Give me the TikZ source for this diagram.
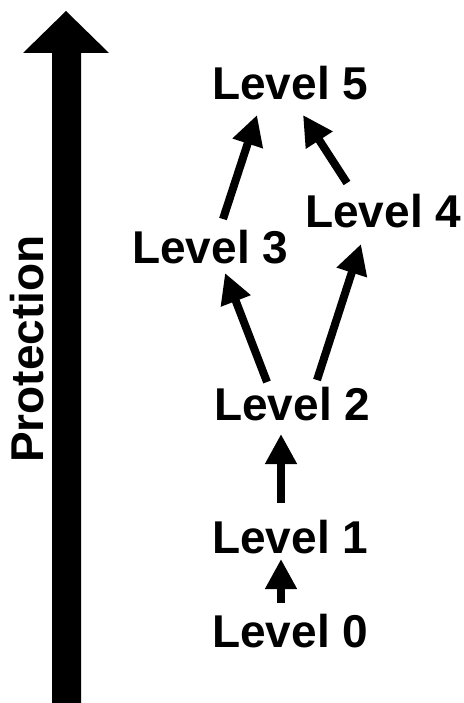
\documentclass[tikz,border=0pt]{standalone}
\usepackage{fontspec}
\setmainfont{Liberation Sans}
\usetikzlibrary{arrows.meta}
\begin{document}
\begin{tikzpicture}[x=1pt,y=-1pt,
  lvl/.style={font=\bfseries\fontsize{46}{55}\selectfont, inner sep=0pt, anchor=base west},
  uparrow/.style={line width=8pt, -{Triangle[width=30pt,length=30pt]}}]
\useasboundingbox (0,0) rectangle (463,703);
% big protection arrow
\fill[black] (52,710) -- (52,53) -- (23,53) -- (66,11) -- (109,53) -- (81,53) -- (81,710) -- cycle;
\node[font=\bfseries\fontsize{46}{55}\selectfont, inner sep=0pt, rotate=90, anchor=base west] (prot) at (43,463) {Protection};
% levels
\node[lvl] (L5) at (212,100) {Level 5};
\node[lvl] (L4) at (305,228) {Level 4};
\node[lvl] (L3) at (132,263) {Level 3};
\node[lvl] (L2) at (214,420) {Level 2};
\node[lvl] (L1) at (212,553) {Level 1};
\node[lvl] (L0) at (212,647) {Level 0};
% arrow ends
\coordinate (a01s) at (281,603); \coordinate (a01e) at (281,559);
\coordinate (a12s) at (281,503); \coordinate (a12e) at (281,434);
\coordinate (a23s) at (267,382); \coordinate (a23e) at (225,273);
\coordinate (a24s) at (317,380); \coordinate (a24e) at (361,244);
\coordinate (a35s) at (223,219); \coordinate (a35e) at (257,115);
\coordinate (a45s) at (347,183); \coordinate (a45e) at (303,115);
\draw[uparrow] (a01s) -- (a01e);
\draw[uparrow] (a12s) -- (a12e);
\draw[uparrow] (a23s) -- (a23e);
\draw[uparrow] (a24s) -- (a24e);
\draw[uparrow] (a35s) -- (a35e);
\draw[uparrow] (a45s) -- (a45e);
\end{tikzpicture}
\end{document}
